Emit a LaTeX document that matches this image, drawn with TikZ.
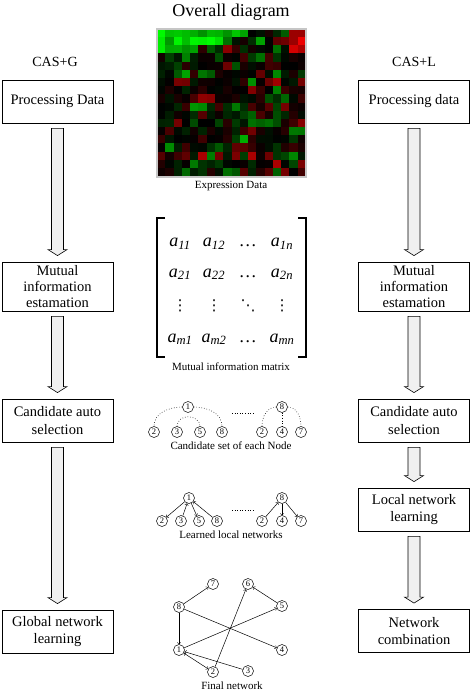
\documentclass[tikz,border=0pt]{standalone}
\usepackage{fontspec}
\setmainfont{Liberation Serif}
\newfontfamily\dotsfont{DejaVu Sans}
\usepackage{xcolor}
\usetikzlibrary{calc}

\tikzset{
  stage/.style={draw, line width=0.8pt, minimum width=111pt, align=center, inner sep=1pt,
    font=\fontsize{14.5}{17.5}\selectfont},
  gene/.style={circle, draw, line width=0.5pt, inner sep=0pt, minimum size=11pt,
    font=\fontsize{8.5}{9}\selectfont},
  link/.style={->, line width=0.5pt},
  cand/.style={dotted, line width=0.6pt},
  caption/.style={font=\fontsize{11}{12}\selectfont},
  entry/.style={anchor=base, inner sep=0.5pt, font=\fontsize{18}{20}\selectfont\itshape},
  vdotsentry/.style={inner sep=0.5pt, font=\fontsize{15}{16}\dotsfont},
  fat/.style={fill=gray!12, draw=black, line width=0.6pt}
}

% hollow block arrow from one stage box down to the next
\newcommand{\blockarrow}[2]{%
  \filldraw[fat] ($(#1.south)+(-6,-5)$) -- ($(#2.north)+(-6,12)$) -- ($(#2.north)+(-9.5,12)$)
    -- ($(#2.north)+(0,6)$) -- ($(#2.north)+(9.5,12)$) -- ($(#2.north)+(6,12)$)
    -- ($(#1.south)+(6,-5)$) -- cycle;}

\begin{document}
\begin{tikzpicture}[x=1pt, y=1pt]
        \useasboundingbox (0,0) rectangle (472,-692);

        \node (title) at (231,-12) {\fontsize{18}{20}\selectfont Overall diagram};
        \node[font=\fontsize{14}{16}\selectfont] (casg) at (55,-62) {CAS+G};
        \node[font=\fontsize{14}{16}\selectfont] (casl) at (414,-62) {CAS+L};

        % expression data
        \pgfmathsetseed{42}
        \foreach \i in {0,...,17}{
          \foreach \j in {0,...,17}{
            \pgfmathsetmacro\hue{rnd}
            \pgfmathsetmacro\lev{0.75*rnd*rnd}
            \pgfmathsetmacro\gv{ifthenelse(and(\j<3,\i<11-3*\j),0.55+0.45*rnd,ifthenelse(and(\j<3,\i>15),0,(\hue<0.55)*\lev))}
            \pgfmathsetmacro\rv{ifthenelse(and(\j<3,\i<11-3*\j),0,ifthenelse(and(\j<3,\i>15),0.6+0.4*rnd,(\hue>=0.55)*\lev))}
            \definecolor{cell}{rgb}{\rv,\gv,0}
            \fill[cell] ({157+\i*8.278},{-29-\j*8.167}) rectangle ++(8.278,-8.167);
          }
        }
        \draw[gray!45, line width=1.2pt] (157,-29) rectangle (306,-177);
        \node[caption] (edcap) at (231,-186) {Expression Data};

        % mutual information matrix
        \draw[line width=1.2pt] (165,-218) -- (157,-218) -- (157,-357) -- (165,-357);
        \draw[line width=1.2pt] (298,-218) -- (306,-218) -- (306,-357) -- (298,-357);
        \node[entry] (m11) at (180,-247) {a\textsubscript{11}};
        \node[entry] (m12) at (214,-247) {a\textsubscript{12}};
        \node[entry] (m13) at (248,-247) {\dots};
        \node[entry] (m14) at (282,-247) {a\textsubscript{1n}};
        \node[entry] (m21) at (180,-277) {a\textsubscript{21}};
        \node[entry] (m22) at (214,-277) {a\textsubscript{22}};
        \node[entry] (m23) at (248,-277) {\dots};
        \node[entry] (m24) at (282,-277) {a\textsubscript{2n}};
        \node[vdotsentry] (m31) at (180,-306) {⋮};
        \node[vdotsentry] (m32) at (214,-306) {⋮};
        \node[vdotsentry] (m33) at (248,-306) {⋱};
        \node[vdotsentry] (m34) at (282,-306) {⋮};
        \node[entry] (m41) at (180,-342) {a\textsubscript{m1}};
        \node[entry] (m42) at (214,-342) {a\textsubscript{m2}};
        \node[entry] (m43) at (248,-342) {\dots};
        \node[entry] (m44) at (282,-342) {a\textsubscript{mn}};
        \node[caption] (mimcap) at (231,-367) {Mutual information matrix};

        % candidate sets
        \node[gene] (c1) at (188,-407) {1};
        \node[gene] (c2) at (154,-432) {2};
        \node[gene] (c3) at (177,-432) {3};
        \node[gene] (c5) at (200,-432) {5};
        \node[gene] (c8) at (222,-432) {8};
        \node[gene] (d8) at (282,-407) {8};
        \node[gene] (d2) at (262,-432) {2};
        \node[gene] (d4) at (282,-432) {4};
        \node[gene] (d7) at (301,-432) {7};
        \draw[cand] (c1.west) to[out=180, in=90] (c2.north);
        \draw[cand] (c1.east) to[out=0, in=90] (c8.north);
        \draw[cand] (c3.north) to[out=90, in=180] ($(c1.south)+(0,-4)$) to[out=0, in=90] (c5.north);
        \draw[cand] (d8.west) to[out=180, in=90] (d2.north);
        \draw[cand] (d8.south) -- (d4.north);
        \draw[cand] (d8.east) to[out=0, in=90] (d7.north);
        \draw[cand] (232,-413) -- (253,-413);
        \node[caption] (cscap) at (231,-446) {Candidate set of each Node};

        % learned local networks
        \node[gene] (la1) at (189,-498) {1};
        \node[gene] (la2) at (162,-521) {2};
        \node[gene] (la3) at (181,-521) {3};
        \node[gene] (la5) at (199,-521) {5};
        \node[gene] (la8) at (217,-521) {8};
        \node[gene] (lb8) at (282,-498) {8};
        \node[gene] (lb2) at (262,-521) {2};
        \node[gene] (lb4) at (282,-521) {4};
        \node[gene] (lb7) at (301,-521) {7};
        \draw[link] (la1) -- (la2);
        \draw[link] (la1) -- (la5);
        \draw[link] (la3) -- (la1);
        \draw[link] (la8) -- (la1);
        \draw[link] (lb2) -- (lb8);
        \draw[link] (lb8) -- (lb4);
        \draw[link] (lb8) -- (lb7);
        \draw[cand] (232,-510) -- (254,-510);
        \node[caption] (llcap) at (231,-535) {Learned local networks};

        % final network
        \node[gene] (n7) at (213,-584) {7};
        \node[gene] (n6) at (248,-584) {6};
        \node[gene] (n8) at (179,-607) {8};
        \node[gene] (n5) at (282,-606) {5};
        \node[gene] (n1) at (179,-650) {1};
        \node[gene] (n4) at (282,-650) {4};
        \node[gene] (n2) at (213,-672) {2};
        \node[gene] (n3) at (248,-671) {3};
        \draw[link] (n8) -- (n7);
        \draw[link] (n8) -- (n1);
        \draw[link] (n8) -- (n4);
        \draw[link] (n1) -- (n5);
        \draw[link] (n2) -- (n6);
        \draw[link] (n5) -- (n6);
        \draw[link] (n3) -- (n1);
        \draw[link, <->] (n1) -- (n2);
        \node[caption] (fncap) at (232,-686) {Final network};

        % CAS+G column
        \node[stage, minimum height=43pt] (g1) at (57.5,-101.5) {Processing Data};
        \node[stage, minimum height=49pt, font=\fontsize{14.5}{16}\selectfont] (g2) at (57.5,-286.5) {Mutual\\information\\estamation};
        \node[stage, minimum height=43pt] (g3) at (57.5,-420.5) {Candidate auto\\selection};
        \node[stage, minimum height=43pt] (g4) at (57.5,-631.5) {Global network\\learning};
        \blockarrow{g1}{g2}
        \blockarrow{g2}{g3}
        \blockarrow{g3}{g4}

        % CAS+L column
        \node[stage, minimum height=43pt] (r1) at (414,-101.5) {Processing data};
        \node[stage, minimum height=49pt, font=\fontsize{14.5}{16}\selectfont] (r2) at (414,-286.5) {Mutual\\information\\estamation};
        \node[stage, minimum height=43pt] (r3) at (414,-420.5) {Candidate auto\\selection};
        \node[stage, minimum height=43pt] (r4) at (414,-509.5) {Local network\\learning};
        \node[stage, minimum height=43pt] (r5) at (414,-631) {Network\\combination};
        \blockarrow{r1}{r2}
        \blockarrow{r2}{r3}
        \blockarrow{r3}{r4}
        \blockarrow{r4}{r5}
\end{tikzpicture}
\end{document}
